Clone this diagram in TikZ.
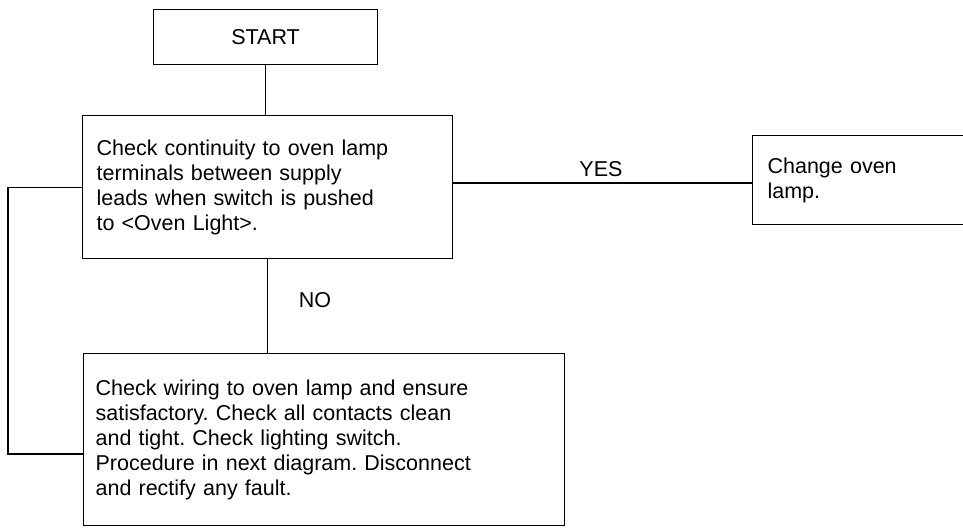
\documentclass[tikz,border=0pt]{standalone}
\usepackage{fontspec}
\setmainfont{Liberation Sans}
\frenchspacing
\begin{document}
\begin{tikzpicture}[x=1pt,y=-1pt,
  every node/.style={font=\fontsize{21.5}{25}\selectfont},
  flowbox/.style={draw=black,line width=1.2pt,rectangle,inner ysep=0pt},
  link/.style={draw=black,line width=1.2pt},
  lbl/.style={inner sep=0pt}]
\useasboundingbox (0,0) rectangle (963,527);
\clip (0,0) rectangle (963,527);
\node[flowbox,minimum width=224pt,minimum height=55pt,anchor=north west] (s) at (153,9) {START};
\node[flowbox,minimum width=370pt,minimum height=143pt,inner xsep=14pt,text width=342pt,align=left,anchor=north west] (b1) at (82,115)
  {Check continuity to oven lamp\\terminals between supply\\leads when switch is pushed\\to <Oven Light>.};
\node[flowbox,minimum width=260pt,minimum height=89pt,inner xsep=15pt,text width=230pt,align=left,anchor=north west] (c) at (752,135)
  {Change oven\\lamp.};
\node[flowbox,minimum width=481pt,minimum height=172pt,inner xsep=12pt,text width=457pt,align=left,anchor=north west] (b3) at (83,353)
  {Check wiring to oven lamp and ensure\\satisfactory. Check all contacts clean\\and tight. Check lighting switch.\\Procedure in next diagram. Disconnect\\and rectify any fault.};
\coordinate (yesy) at (0,183);
\coordinate (lp) at (8,454);
\draw[link] (s.south) -- (s.south |- b1.north);
\draw[link] (b1.east |- yesy) -- (c.west |- yesy);
\draw[link] (b1.south) -- (b1.south |- b3.north);
\draw[link] (b1.west) -| (lp) -- (lp -| b3.west);
\node[lbl] (yes) at (601,169) {YES};
\node[lbl] (no) at (315,300) {NO};
\end{tikzpicture}
\end{document}
